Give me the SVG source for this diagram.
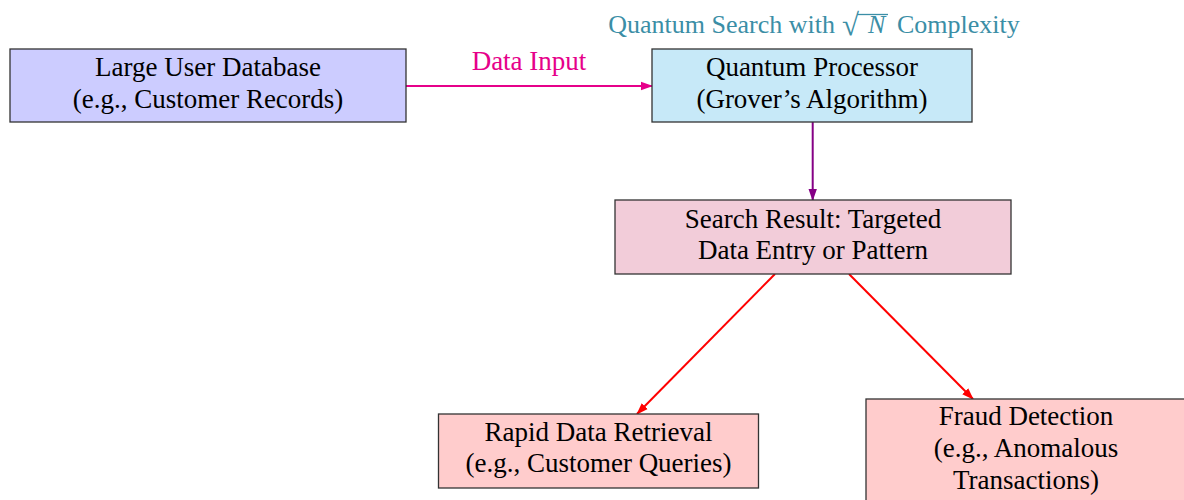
<svg xmlns="http://www.w3.org/2000/svg" width="1184" height="500" viewBox="0 0 1184 500">
<defs>
<style>
text{font-family:"Liberation Serif","Times New Roman",serif;font-size:27px;fill:#000;text-anchor:middle}
.t{fill:#3b8ea6;font-size:26px}
.box{stroke:#333;stroke-width:1.3}
.c{fill:none;stroke-width:2}
</style>
<marker id="mPink" markerWidth="12" markerHeight="10" refX="11" refY="5" orient="auto" markerUnits="userSpaceOnUse"><path d="M0,0.8 L12,5 L0,9.2 Z" fill="#e6008a"/></marker>
<marker id="mPurple" markerWidth="12" markerHeight="10" refX="11" refY="5" orient="auto" markerUnits="userSpaceOnUse"><path d="M0,0.8 L12,5 L0,9.2 Z" fill="#850085"/></marker>
<marker id="mRed" markerWidth="12" markerHeight="10" refX="11" refY="5" orient="auto" markerUnits="userSpaceOnUse"><path d="M0,0.8 L12,5 L0,9.2 Z" fill="#ff0000"/></marker>
</defs>
<rect width="1184" height="500" fill="#fff"/>
<g id="title">
<text class="t" x="835" y="33" style="text-anchor:end">Quantum Search with</text>
<text class="t" x="842" y="35" style="text-anchor:start;font-size:31px">√</text>
<text class="t" x="868" y="33" style="text-anchor:start;font-style:italic">N</text>
<text class="t" x="897" y="33" style="text-anchor:start">Complexity</text>
<line x1="857" y1="14.5" x2="888" y2="14.5" stroke="#3b8ea6" stroke-width="1.3"/>
</g>
<g id="connectors">
<line class="c" x1="406" y1="86" x2="652" y2="86" stroke="#e6008a" marker-end="url(#mPink)"/>
<text x="529" y="70" style="fill:#e6008a">Data Input</text>
<line class="c" x1="812.7" y1="122" x2="812.7" y2="200" stroke="#850085" marker-end="url(#mPurple)"/>
<line class="c" x1="775" y1="274" x2="637" y2="414" stroke="#ff0000" marker-end="url(#mRed)"/>
<line class="c" x1="849" y1="274" x2="973" y2="399" stroke="#ff0000" marker-end="url(#mRed)"/>
</g>
<g id="database">
<rect class="box" x="10" y="49" width="396" height="73" fill="#ccccff"/>
<text x="208" y="76">Large User Database</text>
<text x="208" y="108">(e.g., Customer Records)</text>
</g>
<g id="processor">
<rect class="box" x="652" y="49" width="320" height="73" fill="#c7e9f8"/>
<text x="812" y="76">Quantum Processor</text>
<text x="812" y="108">(Grover’s Algorithm)</text>
</g>
<g id="result">
<rect class="box" x="615" y="200" width="396" height="74" fill="#f2ccd9"/>
<text x="813" y="228">Search Result: Targeted</text>
<text x="813" y="259">Data Entry or Pattern</text>
</g>
<g id="retrieval">
<rect class="box" x="438.5" y="414" width="320" height="74" fill="#ffcccc"/>
<text x="598.5" y="441">Rapid Data Retrieval</text>
<text x="598.5" y="472">(e.g., Customer Queries)</text>
</g>
<g id="fraud">
<rect class="box" x="866" y="399" width="320" height="110" fill="#ffcccc"/>
<text x="1026" y="425">Fraud Detection</text>
<text x="1026" y="457">(e.g., Anomalous</text>
<text x="1026" y="489">Transactions)</text>
</g>
</svg>
